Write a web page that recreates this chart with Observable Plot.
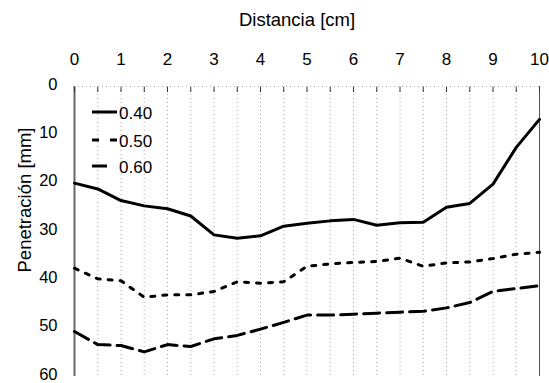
<!DOCTYPE html>
<html><head><meta charset="utf-8">
<script src="https://cdn.jsdelivr.net/npm/d3@7"></script>
<script src="https://cdn.jsdelivr.net/npm/@observablehq/plot@0.6"></script>
<style>body{margin:0;background:#fff}#chart{width:549px;height:383px}</style>
</head><body><div id="chart"></div>
<script>
const distancia = [0,0.5,1,1.5,2,2.5,3,3.5,4,4.5,5,5.5,6,6.5,7,7.5,8,8.5,9,9.5,10];
const p040 = [20.0,21.2,23.6,24.7,25.3,26.8,30.7,31.4,30.9,28.9,28.3,27.8,27.5,28.7,28.2,28.1,25.0,24.2,20.2,12.6,6.8];
const p050 = [37.6,39.8,40.2,43.6,43.1,43.1,42.4,40.4,40.7,40.4,37.2,36.7,36.4,36.2,35.5,37.2,36.5,36.3,35.6,34.7,34.3];
const p060 = [50.7,53.4,53.6,54.9,53.4,53.8,52.2,51.5,50.2,48.8,47.3,47.3,47.1,46.9,46.7,46.5,45.8,44.7,42.4,41.8,41.2];
const seriesNames = ["0.40","0.50","0.60"];
const xTicks = [0,1,2,3,4,5,6,7,8,9,10];
const xMinorTicks = [0,0.5,1,1.5,2,2.5,3,3.5,4,4.5,5,5.5,6,6.5,7,7.5,8,8.5,9,9.5,10];
const yTicks = [0,10,20,30,40,50,60];
const xTitle = "Distancia [cm]";
const yTitle = "Penetración [mm]";

const FONT = "'Liberation Sans', Arial, sans-serif";
const dashes = ["none","4,8","16,7"];
const values = [p040,p050,p060];
const rows = values.map((arr,k)=>distancia.map((d,i)=>({x:d,y:arr[i],s:seriesNames[k]})));
const M = {left:74, right:10, top:86, bottom:7};

const plot = Plot.plot({
  width:549, height:383,
  marginLeft:M.left, marginRight:M.right, marginTop:M.top, marginBottom:M.bottom,
  style:{fontFamily:FONT, fontSize:"17px", background:"#fff", color:"#000", overflow:"visible"},
  x:{domain:[0,10]},
  y:{domain:[0,60], reverse:true},
  marks:[
    Plot.gridX(xMinorTicks,{stroke:"#aaa", strokeOpacity:1, strokeDasharray:"1,3"}),
    Plot.ruleY([0],{stroke:"#aaa", strokeDasharray:"1,3"}),
    Plot.ruleX([0],{stroke:"#666", strokeWidth:2}),
    Plot.ruleX([10],{stroke:"#555", strokeWidth:1}),
    Plot.axisX({anchor:"top", ticks:xMinorTicks, tickSize:-5, tickFormat:()=>"", label:null, stroke:"#333"}),
    Plot.axisX({anchor:"top", ticks:xTicks, tickSize:0, tickPadding:22, label:null, fontSize:17}),
    Plot.axisY({anchor:"left", ticks:yTicks, tickSize:0, tickPadding:17, label:null, fontSize:16.5, dy:-2}),
    ...rows.map((r,k)=>Plot.line(r,{x:"x", y:"y", stroke:"#000", strokeWidth:3, strokeDasharray:dashes[k]}))
  ]
});
document.getElementById("chart").appendChild(plot);

const svg = d3.select(plot);
// axis titles
const frameCx = M.left + (549 - M.left - M.right)/2;
const frameCy = M.top + (383 - M.top - M.bottom)/2;
svg.append("text").attr("font-family",FONT).attr("font-size",18.5).attr("text-anchor","middle")
  .attr("x", frameCx - 9.5).attr("y", 26).text(xTitle);
svg.append("text").attr("font-family",FONT).attr("font-size",18.5).attr("text-anchor","middle")
  .attr("transform",`translate(31,${frameCy - 31}) rotate(-90)`).text(yTitle);

// legend
const lg = svg.append("g").attr("font-family",FONT).attr("font-size",17).attr("text-anchor","start");
const legY = [112,140,166];
const legLen = [25,25,15];
seriesNames.forEach((name,k)=>{
  lg.append("line").attr("x1",92).attr("x2",92+legLen[k]).attr("y1",legY[k]).attr("y2",legY[k])
    .attr("stroke","#000").attr("stroke-width",3).attr("stroke-dasharray",k===1?"7,11":null);
  lg.append("text").attr("x",119).attr("y",legY[k]+1.5).attr("dy","0.35em").text(name);
});
</script></body></html>
